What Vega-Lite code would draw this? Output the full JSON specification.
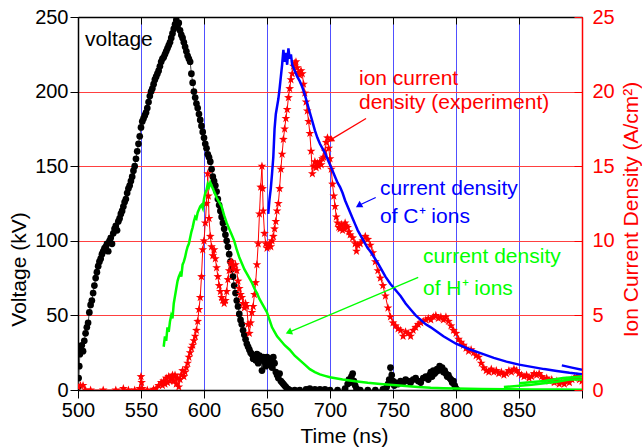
{
  "$schema": "https://vega.github.io/schema/vega-lite/v6.json",
  "autosize": {"type": "none"},
  "width": 504,
  "height": 373,
  "padding": {"left": 78, "top": 17, "right": 60, "bottom": 58},
  "background": "white",
  "config": {
    "font": "Liberation Sans",
    "view": {"stroke": null},
    "axis": {"labelFont": "Liberation Sans", "titleFont": "Liberation Sans", "titleFontWeight": "normal", "labelOverlap": false, "labelFlush": false}
  },
  "datasets": {
    "volt": [
      {"t":500,"v":2},{"t":500.5,"v":8},{"t":501,"v":16},{"t":501.5,"v":24},{"t":502,"v":28},{"t":503,"v":30},{"t":504,"v":26},{"t":505,"v":33},{"t":506,"v":38},{"t":507,"v":42},{"t":508,"v":45},{"t":509,"v":52},{"t":510,"v":57},{"t":511,"v":60},{"t":512,"v":65},{"t":513,"v":70},{"t":514,"v":75},{"t":515,"v":79},{"t":516,"v":83},{"t":517,"v":86},{"t":518,"v":88},{"t":519,"v":91},{"t":520,"v":93},{"t":521,"v":95},{"t":522,"v":96},{"t":523,"v":98},{"t":524,"v":93},{"t":525,"v":100},{"t":526,"v":102},{"t":527,"v":98},{"t":528,"v":105},{"t":529,"v":108},{"t":530,"v":110},{"t":531,"v":107},{"t":532,"v":113},{"t":533,"v":115},{"t":534,"v":118},{"t":535,"v":120},{"t":536,"v":123},{"t":537,"v":126},{"t":538,"v":128},{"t":539,"v":132},{"t":540,"v":135},{"t":541,"v":137},{"t":542,"v":140},{"t":543,"v":143},{"t":544,"v":147},{"t":545,"v":150},{"t":546,"v":155},{"t":547,"v":160},{"t":548,"v":165},{"t":549,"v":170},{"t":550,"v":176},{"t":551,"v":180},{"t":552,"v":182},{"t":553,"v":184},{"t":554,"v":186},{"t":555,"v":189},{"t":556,"v":193},{"t":557,"v":197},{"t":558,"v":200},{"t":559,"v":202},{"t":560,"v":205},{"t":561,"v":208},{"t":562,"v":210},{"t":563,"v":212},{"t":564,"v":214},{"t":565,"v":217},{"t":566,"v":220},{"t":567,"v":222},{"t":568,"v":223},{"t":569,"v":225},{"t":570,"v":227},{"t":571,"v":229},{"t":572,"v":231},{"t":573,"v":233},{"t":574,"v":236},{"t":575,"v":239},{"t":576,"v":242},{"t":577,"v":245},{"t":578,"v":248},{"t":579,"v":244},{"t":580,"v":246},{"t":581,"v":241},{"t":582,"v":238},{"t":583,"v":236},{"t":584,"v":233},{"t":585,"v":230},{"t":586,"v":227},{"t":587,"v":224},{"t":588,"v":222},{"t":589,"v":220},{"t":590,"v":212},{"t":591,"v":206},{"t":592,"v":200},{"t":593,"v":196},{"t":594,"v":192},{"t":595,"v":189},{"t":596,"v":185},{"t":597,"v":181},{"t":598,"v":177},{"t":599,"v":173},{"t":600,"v":169},{"t":601,"v":165},{"t":602,"v":162},{"t":603,"v":158},{"t":604,"v":156},{"t":605,"v":153},{"t":606,"v":148},{"t":607,"v":143},{"t":608,"v":140},{"t":609,"v":137},{"t":610,"v":133},{"t":611,"v":128},{"t":612,"v":124},{"t":613,"v":120},{"t":614,"v":116},{"t":615,"v":112},{"t":616,"v":108},{"t":617,"v":104},{"t":618,"v":100},{"t":619,"v":96},{"t":620,"v":91},{"t":621,"v":86},{"t":622,"v":81},{"t":623,"v":76},{"t":624,"v":70},{"t":625,"v":65},{"t":626,"v":60},{"t":627,"v":56},{"t":628,"v":51},{"t":629,"v":47},{"t":630,"v":44},{"t":631,"v":40},{"t":632,"v":37},{"t":633,"v":34},{"t":634,"v":31},{"t":635,"v":29},{"t":636,"v":27},{"t":637,"v":25},{"t":638,"v":24},{"t":639,"v":21},{"t":640,"v":23},{"t":641,"v":20},{"t":642,"v":24},{"t":643,"v":18},{"t":644,"v":23},{"t":645,"v":20},{"t":646,"v":13},{"t":647,"v":22},{"t":648,"v":19},{"t":649,"v":16},{"t":650,"v":22},{"t":651,"v":20},{"t":652,"v":17},{"t":653,"v":21},{"t":654,"v":15},{"t":655,"v":22},{"t":656,"v":18},{"t":657,"v":12},{"t":658,"v":10},{"t":659,"v":8},{"t":660,"v":11},{"t":661,"v":6},{"t":662,"v":5},{"t":663,"v":4},{"t":664,"v":3},{"t":665,"v":2},{"t":666,"v":1},{"t":667,"v":0.5},{"t":668,"v":0},
      {"t":672,"v":0},{"t":676,"v":0},{"t":681,"v":0.5},{"t":684,"v":1},{"t":688,"v":0.5},{"t":692,"v":0.5},{"t":696,"v":0.5},{"t":700,"v":0},{"t":706,"v":0},{"t":712,"v":1},{"t":714,"v":4},{"t":715,"v":7},{"t":716,"v":5},{"t":717,"v":9},{"t":718,"v":11},{"t":719,"v":6},{"t":720,"v":3},{"t":721,"v":1},{"t":724,"v":0},{"t":730,"v":0},{"t":736,"v":0},{"t":742,"v":0.5},{"t":745,"v":2},{"t":746,"v":4},{"t":747,"v":7},{"t":748,"v":15},{"t":749,"v":10},{"t":750,"v":6},{"t":751,"v":3},{"t":752,"v":5},{"t":754,"v":4},{"t":756,"v":6},{"t":758,"v":5},{"t":760,"v":7},{"t":762,"v":6},{"t":764,"v":5},{"t":766,"v":7},{"t":768,"v":8},{"t":770,"v":6},{"t":772,"v":5},{"t":774,"v":8},{"t":776,"v":9},{"t":778,"v":7},{"t":779,"v":10},{"t":780,"v":12},{"t":781,"v":9},{"t":782,"v":13},{"t":783,"v":11},{"t":784,"v":12},{"t":785,"v":14},{"t":786,"v":13},{"t":787,"v":16},{"t":788,"v":14},{"t":789,"v":15},{"t":790,"v":12},{"t":791,"v":13},{"t":792,"v":11},{"t":793,"v":9},{"t":794,"v":10},{"t":795,"v":8},{"t":796,"v":7},{"t":797,"v":5},{"t":798,"v":6},{"t":799,"v":3},{"t":800,"v":1},{"t":801,"v":0}
    ],
    "exp": [
      {"t":500,"j":0.2},{"t":502,"j":0.3},{"t":504,"j":0.3},{"t":506,"j":0},{"t":510,"j":0},{"t":520,"j":0},{"t":530,"j":0},{"t":536,"j":0.1},{"t":540,"j":0},{"t":545,"j":0},{"t":549,"j":0.1},{"t":550,"j":0.9},{"t":550.5,"j":0.5},{"t":551,"j":0.1},{"t":555,"j":0},{"t":560,"j":0.05},{"t":562,"j":0.1},{"t":564,"j":0.3},{"t":566,"j":0.5},{"t":567,"j":0.3},{"t":568,"j":0.6},{"t":569,"j":0.4},{"t":570,"j":0.8},{"t":571,"j":0.5},{"t":572,"j":0.9},{"t":573,"j":0.6},{"t":574,"j":0.8},{"t":575,"j":1.0},{"t":576,"j":0.6},{"t":577,"j":1.0},{"t":578,"j":0.4},{"t":579,"j":0.8},{"t":580,"j":0.2},{"t":581,"j":0.7},{"t":582,"j":1.0},{"t":583,"j":1.3},{"t":584,"j":0.9},{"t":585,"j":1.2},{"t":586,"j":1.5},{"t":587,"j":1.8},{"t":588,"j":2.2},{"t":589,"j":2.5},{"t":590,"j":2.8},{"t":591,"j":3.0},{"t":592,"j":3.3},{"t":593,"j":3.6},{"t":594,"j":4.0},{"t":595,"j":4.6},{"t":596,"j":5.4},{"t":597,"j":6.2},{"t":598,"j":7.6},{"t":599,"j":9.4},{"t":600,"j":10.0},{"t":601,"j":11.2},{"t":602,"j":12.5},{"t":603,"j":14.5},{"t":603.5,"j":13.0},{"t":604,"j":11.5},{"t":605,"j":10.3},{"t":606,"j":9.6},{"t":607,"j":9.0},{"t":608,"j":9.4},{"t":609,"j":8.8},{"t":610,"j":8.2},{"t":611,"j":7.6},{"t":612,"j":7.0},{"t":613,"j":6.6},{"t":614,"j":6.2},{"t":615,"j":6.0},{"t":616,"j":5.8},{"t":617,"j":6.0},{"t":618,"j":6.6},{"t":619,"j":7.4},{"t":620,"j":8.0},{"t":621,"j":8.5},{"t":622,"j":8.6},{"t":623,"j":8.3},{"t":624,"j":8.1},{"t":625,"j":8.4},{"t":626,"j":8.0},{"t":627,"j":7.3},{"t":628,"j":6.8},{"t":629,"j":6.4},{"t":630,"j":6.2},{"t":631,"j":5.8},{"t":632,"j":5.5},{"t":633,"j":5.8},{"t":634,"j":5.6},{"t":635,"j":4.4},{"t":636,"j":3.8},{"t":637,"j":4.5},{"t":638,"j":5.2},{"t":639,"j":5.6},{"t":640,"j":6.4},{"t":641,"j":7.2},{"t":642,"j":8.4},{"t":643,"j":9.8},{"t":644,"j":11.8},{"t":645,"j":13.6},{"t":646,"j":15.0},{"t":646.5,"j":13.5},{"t":647,"j":12.0},{"t":648,"j":10.5},{"t":649,"j":9.8},{"t":650,"j":9.5},{"t":651,"j":9.6},{"t":652,"j":9.8},{"t":653,"j":9.6},{"t":654,"j":10.0},{"t":655,"j":10.3},{"t":656,"j":10.8},{"t":657,"j":11.3},{"t":658,"j":12.0},{"t":659,"j":12.5},{"t":660,"j":13.5},{"t":661,"j":14.8},{"t":662,"j":15.8},{"t":663,"j":16.8},{"t":664,"j":17.5},{"t":665,"j":18.2},{"t":666,"j":18.8},{"t":667,"j":19.6},{"t":668,"j":20.2},{"t":669,"j":20.8},{"t":670,"j":21.2},{"t":671,"j":21.7},{"t":672,"j":21.9},{"t":673,"j":22.0},{"t":674,"j":21.6},{"t":675,"j":21.3},{"t":676,"j":21.1},{"t":677,"j":21.4},{"t":678,"j":21.2},{"t":679,"j":20.5},{"t":680,"j":19.9},{"t":681,"j":19.3},{"t":682,"j":18.7},{"t":683,"j":18.0},{"t":684,"j":17.2},{"t":685,"j":16.0},{"t":686,"j":14.5},{"t":687,"j":15.0},{"t":688,"j":15.3},{"t":689,"j":14.9},{"t":690,"j":15.2},{"t":691,"j":15.0},{"t":692,"j":15.3},{"t":693,"j":15.1},{"t":694,"j":15.5},{"t":695,"j":15.6},{"t":696,"j":16.0},{"t":697,"j":16.6},{"t":698,"j":16.9},{"t":699,"j":16.2},{"t":700,"j":15.5},{"t":701,"j":14.8},{"t":702,"j":13.8},{"t":703,"j":13.0},{"t":704,"j":12.3},{"t":705,"j":11.6},{"t":706,"j":11.2},{"t":707,"j":10.9},{"t":708,"j":10.8},{"t":709,"j":11.1},{"t":710,"j":10.7},{"t":711,"j":10.8},{"t":712,"j":11.2},{"t":713,"j":11.0},{"t":714,"j":10.9},{"t":715,"j":10.6},{"t":716,"j":10.4},{"t":718,"j":10.2},{"t":720,"j":9.8},{"t":721,"j":9.3},{"t":722,"j":9.7},{"t":724,"j":9.8},{"t":726,"j":10.0},{"t":728,"j":10.3},{"t":730,"j":10.1},{"t":732,"j":9.7},{"t":734,"j":9.2},{"t":736,"j":8.6},{"t":738,"j":8.0},{"t":740,"j":7.5},{"t":742,"j":7.0},{"t":744,"j":6.3},{"t":746,"j":5.5},{"t":748,"j":4.9},{"t":750,"j":4.5},{"t":752,"j":4.3},{"t":754,"j":4.1},{"t":756,"j":4.0},{"t":758,"j":3.6},{"t":760,"j":3.9},{"t":762,"j":3.8},{"t":764,"j":3.6},{"t":766,"j":4.0},{"t":768,"j":4.2},{"t":770,"j":4.4},{"t":772,"j":4.5},{"t":774,"j":4.6},{"t":776,"j":4.7},{"t":778,"j":4.8},{"t":780,"j":4.7},{"t":782,"j":4.9},{"t":784,"j":5.0},{"t":786,"j":4.8},{"t":788,"j":4.9},{"t":790,"j":4.7},{"t":792,"j":4.9},{"t":794,"j":4.6},{"t":796,"j":4.3},{"t":798,"j":4.0},{"t":800,"j":3.8},{"t":802,"j":3.4},{"t":804,"j":3.2},{"t":806,"j":3.0},{"t":808,"j":2.8},{"t":810,"j":2.6},{"t":812,"j":2.7},{"t":814,"j":2.5},{"t":816,"j":2.3},{"t":818,"j":2.2},{"t":820,"j":1.8},{"t":822,"j":1.5},{"t":824,"j":1.3},{"t":826,"j":1.2},{"t":828,"j":1.4},{"t":830,"j":1.2},{"t":832,"j":1.3},{"t":834,"j":1.1},{"t":836,"j":1.2},{"t":838,"j":1.0},{"t":840,"j":1.1},{"t":842,"j":1.3},{"t":844,"j":1.2},{"t":846,"j":1.4},{"t":848,"j":1.3},{"t":850,"j":1.1},{"t":852,"j":1.0},{"t":854,"j":0.9},{"t":856,"j":1.0},{"t":858,"j":0.8},{"t":860,"j":0.9},{"t":862,"j":1.1},{"t":864,"j":1.0},{"t":866,"j":1.1},{"t":868,"j":0.9},{"t":870,"j":0.7},{"t":872,"j":0.8},{"t":874,"j":0.6},{"t":876,"j":0.7},{"t":878,"j":0.5},{"t":880,"j":0.6},{"t":882,"j":0.4},{"t":884,"j":0.5},{"t":886,"j":0.4},{"t":888,"j":0.6},{"t":890,"j":0.5},{"t":892,"j":0.7},{"t":894,"j":0.8},{"t":896,"j":0.9},{"t":898,"j":0.7},{"t":900,"j":0.6}
    ],
    "cplus": [
      {"t":651,"j":11.8,"seg":"a"},{"t":652,"j":12.8,"seg":"a"},{"t":653,"j":13.5,"seg":"a"},{"t":654,"j":14.5,"seg":"a"},{"t":655,"j":15.6,"seg":"a"},{"t":656,"j":17.5,"seg":"a"},{"t":657,"j":18.5,"seg":"a"},{"t":658,"j":19.0,"seg":"a"},{"t":659,"j":19.5,"seg":"a"},{"t":660,"j":20.2,"seg":"a"},{"t":661,"j":21.0,"seg":"a"},{"t":662,"j":21.8,"seg":"a"},{"t":663,"j":22.8,"seg":"a"},{"t":664,"j":22.0,"seg":"a"},{"t":665,"j":22.6,"seg":"a"},{"t":666,"j":21.8,"seg":"a"},{"t":667,"j":22.9,"seg":"a"},{"t":668,"j":22.2,"seg":"a"},{"t":669,"j":22.5,"seg":"a"},{"t":670,"j":21.8,"seg":"a"},{"t":672,"j":21.4,"seg":"a"},{"t":674,"j":21.0,"seg":"a"},{"t":676,"j":20.7,"seg":"a"},{"t":678,"j":20.3,"seg":"a"},{"t":680,"j":19.8,"seg":"a"},{"t":682,"j":19.2,"seg":"a"},{"t":684,"j":18.6,"seg":"a"},{"t":686,"j":18.0,"seg":"a"},{"t":688,"j":17.4,"seg":"a"},{"t":690,"j":16.9,"seg":"a"},{"t":692,"j":16.5,"seg":"a"},{"t":694,"j":16.2,"seg":"a"},{"t":696,"j":15.9,"seg":"a"},{"t":698,"j":15.5,"seg":"a"},{"t":700,"j":15.1,"seg":"a"},{"t":702,"j":14.7,"seg":"a"},{"t":704,"j":14.3,"seg":"a"},{"t":706,"j":13.9,"seg":"a"},{"t":708,"j":13.6,"seg":"a"},{"t":710,"j":13.2,"seg":"a"},{"t":712,"j":12.7,"seg":"a"},{"t":714,"j":12.3,"seg":"a"},{"t":716,"j":11.9,"seg":"a"},{"t":718,"j":11.5,"seg":"a"},{"t":720,"j":11.1,"seg":"a"},{"t":722,"j":10.7,"seg":"a"},{"t":724,"j":10.4,"seg":"a"},{"t":726,"j":10.1,"seg":"a"},{"t":728,"j":9.8,"seg":"a"},{"t":730,"j":9.5,"seg":"a"},{"t":732,"j":9.3,"seg":"a"},{"t":735,"j":8.9,"seg":"a"},{"t":738,"j":8.5,"seg":"a"},{"t":740,"j":8.2,"seg":"a"},{"t":744,"j":7.6,"seg":"a"},{"t":748,"j":7.1,"seg":"a"},{"t":752,"j":6.7,"seg":"a"},{"t":756,"j":6.3,"seg":"a"},{"t":760,"j":5.8,"seg":"a"},{"t":764,"j":5.4,"seg":"a"},{"t":768,"j":5.0,"seg":"a"},{"t":772,"j":4.7,"seg":"a"},{"t":776,"j":4.4,"seg":"a"},{"t":780,"j":4.2,"seg":"a"},{"t":785,"j":3.9,"seg":"a"},{"t":790,"j":3.6,"seg":"a"},{"t":795,"j":3.35,"seg":"a"},{"t":800,"j":3.1,"seg":"a"},{"t":810,"j":2.75,"seg":"a"},{"t":820,"j":2.45,"seg":"a"},{"t":830,"j":2.15,"seg":"a"},{"t":840,"j":1.9,"seg":"a"},{"t":850,"j":1.7,"seg":"a"},{"t":860,"j":1.55,"seg":"a"},{"t":870,"j":1.4,"seg":"a"},{"t":880,"j":1.28,"seg":"a"},{"t":890,"j":1.15,"seg":"a"},{"t":900,"j":1.05,"seg":"a"},
      {"t":884,"j":1.65,"seg":"b"},{"t":892,"j":1.5,"seg":"b"},{"t":900,"j":1.35,"seg":"b"}
    ],
    "hplus": [
      {"t":568,"j":2.9,"seg":"a"},{"t":569,"j":3.6,"seg":"a"},{"t":570,"j":3.3,"seg":"a"},{"t":571,"j":4.2,"seg":"a"},{"t":572,"j":3.9,"seg":"a"},{"t":573,"j":4.6,"seg":"a"},{"t":574,"j":5.0,"seg":"a"},{"t":575,"j":4.8,"seg":"a"},{"t":576,"j":5.8,"seg":"a"},{"t":577,"j":6.3,"seg":"a"},{"t":578,"j":6.8,"seg":"a"},{"t":579,"j":7.3,"seg":"a"},{"t":580,"j":7.6,"seg":"a"},{"t":581,"j":7.8,"seg":"a"},{"t":582,"j":7.6,"seg":"a"},{"t":583,"j":8.4,"seg":"a"},{"t":584,"j":8.6,"seg":"a"},{"t":585,"j":8.9,"seg":"a"},{"t":586,"j":9.3,"seg":"a"},{"t":587,"j":9.6,"seg":"a"},{"t":588,"j":9.8,"seg":"a"},{"t":589,"j":10.2,"seg":"a"},{"t":590,"j":10.6,"seg":"a"},{"t":591,"j":10.9,"seg":"a"},{"t":592,"j":11.3,"seg":"a"},{"t":593,"j":11.6,"seg":"a"},{"t":594,"j":11.5,"seg":"a"},{"t":595,"j":11.9,"seg":"a"},{"t":596,"j":12.1,"seg":"a"},{"t":597,"j":12.3,"seg":"a"},{"t":598,"j":12.4,"seg":"a"},{"t":599,"j":12.2,"seg":"a"},{"t":600,"j":12.8,"seg":"a"},{"t":601,"j":13.2,"seg":"a"},{"t":602,"j":13.4,"seg":"a"},{"t":603,"j":13.8,"seg":"a"},{"t":604,"j":13.6,"seg":"a"},{"t":605,"j":13.9,"seg":"a"},{"t":606,"j":13.7,"seg":"a"},{"t":607,"j":13.5,"seg":"a"},{"t":608,"j":13.3,"seg":"a"},{"t":609,"j":13.1,"seg":"a"},{"t":610,"j":12.9,"seg":"a"},{"t":612,"j":12.6,"seg":"a"},{"t":614,"j":12.3,"seg":"a"},{"t":616,"j":11.7,"seg":"a"},{"t":618,"j":11.2,"seg":"a"},{"t":620,"j":10.8,"seg":"a"},{"t":622,"j":10.4,"seg":"a"},{"t":624,"j":10.0,"seg":"a"},{"t":626,"j":9.4,"seg":"a"},{"t":628,"j":8.9,"seg":"a"},{"t":630,"j":8.5,"seg":"a"},{"t":632,"j":8.1,"seg":"a"},{"t":634,"j":7.8,"seg":"a"},{"t":636,"j":7.5,"seg":"a"},{"t":638,"j":7.2,"seg":"a"},{"t":640,"j":6.8,"seg":"a"},{"t":642,"j":6.5,"seg":"a"},{"t":644,"j":6.1,"seg":"a"},{"t":646,"j":5.8,"seg":"a"},{"t":648,"j":5.5,"seg":"a"},{"t":650,"j":5.2,"seg":"a"},{"t":652,"j":4.7,"seg":"a"},{"t":654,"j":4.2,"seg":"a"},{"t":656,"j":3.9,"seg":"a"},{"t":658,"j":3.6,"seg":"a"},{"t":660,"j":3.4,"seg":"a"},{"t":664,"j":3.0,"seg":"a"},{"t":668,"j":2.7,"seg":"a"},{"t":672,"j":2.3,"seg":"a"},{"t":676,"j":2.0,"seg":"a"},{"t":680,"j":1.7,"seg":"a"},{"t":684,"j":1.4,"seg":"a"},{"t":688,"j":1.2,"seg":"a"},{"t":692,"j":1.05,"seg":"a"},{"t":696,"j":0.95,"seg":"a"},{"t":700,"j":0.85,"seg":"a"},{"t":710,"j":0.7,"seg":"a"},{"t":720,"j":0.58,"seg":"a"},{"t":730,"j":0.48,"seg":"a"},{"t":740,"j":0.4,"seg":"a"},{"t":750,"j":0.33,"seg":"a"},{"t":760,"j":0.27,"seg":"a"},{"t":770,"j":0.2,"seg":"a"},{"t":780,"j":0.15,"seg":"a"},{"t":790,"j":0.12,"seg":"a"},{"t":800,"j":0.1,"seg":"a"},{"t":820,"j":0.07,"seg":"a"},{"t":840,"j":0.05,"seg":"a"},{"t":860,"j":0.04,"seg":"a"},{"t":880,"j":0.03,"seg":"a"},{"t":900,"j":0.02,"seg":"a"},
      {"t":838,"j":0.2,"seg":"b"},{"t":860,"j":0.35,"seg":"b"},{"t":880,"j":0.55,"seg":"b"},{"t":890,"j":0.7,"seg":"b"},{"t":900,"j":0.7,"seg":"b"},
      {"t":850,"j":0.45,"seg":"c"},{"t":870,"j":0.6,"seg":"c"},{"t":885,"j":0.8,"seg":"c"},{"t":900,"j":0.9,"seg":"c"}
    ],
    "arrows": [
      {"who":"exp","t":728.6,"j":18.2,"t2":701,"j2":16.8},
      {"who":"C","t":736.3,"j":12.9,"t2":723.5,"j2":12.4},
      {"who":"H","t":770,"j":7.55,"t2":668,"j2":3.9}
    ],
    "notes": [
      {"who":"exp","t":723,"j":20.44,"text":"ion current"},
      {"who":"exp","t":723,"j":18.83,"text":"density (experiment)"},
      {"who":"C","t":739.7,"j":13.07,"text":"current density"},
      {"who":"C","t":739.7,"j":11.19,"text":"of C⁺ ions"},
      {"who":"H","t":773.8,"j":8.5,"text":"current density"},
      {"who":"H","t":773.8,"j":6.37,"text":"of H⁺ ions"}
    ],
    "vnote": [
      {"t":505.6,"v":230.6,"text":"voltage"}
    ]
  },
  "layer": [
    {
      "layer": [
        {
          "data": {"name": "volt"},
          "mark": {"type": "line", "color": "#444444", "strokeWidth": 1, "clip": true},
          "encoding": {
            "x": {"field": "t", "type": "quantitative", "scale": {"domain": [500, 900], "nice": false, "zero": false},
              "axis": {
                "orient": "bottom",
                "values": [500,525,550,575,600,625,650,675,700,725,750,775,800,825,850,875,900],
                "labelExpr": "datum.value % 50 === 0 && datum.value < 900 ? datum.label : ''",
                "labelFontSize": 20, "labelColor": "black", "labelPadding": 2,
                "tickSize": {"condition": {"test": "datum.value % 50 !== 0", "value": 5}, "value": 8},
                "tickColor": "black", "tickWidth": 1,
                "domainColor": "black", "domainWidth": 1.5,
                "grid": true, "gridColor": "#5050ff", "gridWidth": 1,
                "gridOpacity": {"condition": {"test": "datum.value % 50 !== 0 || datum.value === 500 || datum.value === 900", "value": 0}, "value": 1},
                "title": "Time (ns)", "titleFontSize": 21, "titleColor": "black",
                "titleX": 266, "titleY": 52, "titleBaseline": "alphabetic", "titleAlign": "center"
              }
            },
            "y": {"field": "v", "type": "quantitative", "scale": {"domain": [0, 250], "nice": false},
              "axis": {
                "orient": "left",
                "values": [0,25,50,75,100,125,150,175,200,225,250],
                "labelExpr": "datum.value % 50 === 0 ? datum.label : ''",
                "labelFontSize": 20, "labelColor": "black", "labelPadding": 2,
                "tickSize": {"condition": {"test": "datum.value % 50 !== 0", "value": 4}, "value": 8},
                "tickColor": "black", "domainColor": "black", "domainWidth": 1.5,
                "grid": false,
                "title": "Voltage (kV)", "titleFontSize": 21, "titleColor": "black",
                "titleAngle": 270, "titleX": -53, "titleY": 252, "titleAlign": "center", "titleBaseline": "alphabetic"
              }
            }
          }
        },
        {
          "data": {"name": "volt"},
          "mark": {"type": "point", "shape": "circle", "filled": true, "color": "black", "size": 45, "opacity": 1, "clip": true},
          "encoding": {
            "x": {"field": "t", "type": "quantitative"},
            "y": {"field": "v", "type": "quantitative"}
          }
        },
        {
          "data": {"name": "vnote"},
          "mark": {"type": "text", "align": "left", "baseline": "alphabetic", "fontSize": 21, "font": "Liberation Sans", "color": "black"},
          "encoding": {
            "x": {"field": "t", "type": "quantitative"},
            "y": {"field": "v", "type": "quantitative"},
            "text": {"field": "text"}
          }
        }
      ]
    },
    {
      "layer": [
        {
          "data": {"name": "exp"},
          "mark": {"type": "line", "color": "#ff0000", "strokeWidth": 1, "clip": true},
          "encoding": {
            "x": {"field": "t", "type": "quantitative",
              "axis": {
                "orient": "top",
                "values": [500,525,550,575,600,625,650,675,700,725,750,775,800,825,850,875,900],
                "labels": false,
                "tickSize": {"condition": {"test": "datum.value % 50 !== 0", "value": -4}, "value": -7},
                "tickColor": "black", "domainColor": "black", "domainWidth": 1.5,
                "grid": false, "title": null
              }
            },
            "y": {"field": "j", "type": "quantitative", "scale": {"domain": [0, 25], "nice": false},
              "axis": {
                "orient": "right",
                "values": [0,2.5,5,7.5,10,12.5,15,17.5,20,22.5,25],
                "labelExpr": "datum.value % 5 === 0 ? datum.label : ''",
                "labelFontSize": 20, "labelColor": "#ff0000", "labelPadding": 18,
                "tickSize": {"condition": {"test": "datum.value % 5 !== 0", "value": -4}, "value": -8},
                "tickColor": "#ff0000", "domainColor": "#ff0000", "domainWidth": 1.5,
                "grid": true, "gridColor": "#ff4040", "gridWidth": 1,
                "gridOpacity": {"condition": {"test": "datum.value % 5 !== 0 || datum.value === 0 || datum.value === 25", "value": 0}, "value": 1},
                "title": "Ion Current Density (A/cm²)", "titleFontSize": 21, "titleColor": "#ff0000",
                "titleAngle": 270, "titleX": 55, "titleY": 192, "titleAlign": "center", "titleBaseline": "alphabetic"
              }
            }
          }
        },
        {
          "data": {"name": "exp"},
          "mark": {"type": "point", "shape": "M0,-1L0.235,-0.324L0.951,-0.309L0.38,0.124L0.588,0.809L0,0.4L-0.588,0.809L-0.38,0.124L-0.951,-0.309L-0.235,-0.324Z", "filled": true, "color": "#ff0000", "size": 85, "opacity": 1, "clip": true},
          "encoding": {
            "x": {"field": "t", "type": "quantitative"},
            "y": {"field": "j", "type": "quantitative"}
          }
        },
        {
          "data": {"name": "cplus"},
          "mark": {"type": "line", "color": "#0000ff", "strokeWidth": 2.5, "clip": true},
          "encoding": {
            "x": {"field": "t", "type": "quantitative"},
            "y": {"field": "j", "type": "quantitative"},
            "detail": {"field": "seg"}
          }
        },
        {
          "data": {"name": "hplus"},
          "mark": {"type": "line", "color": "#00ff00", "strokeWidth": 2.5, "clip": true},
          "encoding": {
            "x": {"field": "t", "type": "quantitative"},
            "y": {"field": "j", "type": "quantitative"},
            "detail": {"field": "seg"}
          }
        },
        {
          "data": {"name": "arrows"},
          "mark": {"type": "rule", "strokeWidth": 1.3},
          "encoding": {
            "x": {"field": "t", "type": "quantitative"},
            "y": {"field": "j", "type": "quantitative"},
            "x2": {"field": "t2"},
            "y2": {"field": "j2"},
            "color": {"field": "who", "type": "nominal", "scale": {"domain": ["exp", "C", "H"], "range": ["#ff0000", "#0000ff", "#00ff00"]}, "legend": null}
          }
        },
        {
          "data": {"name": "arrows"},
          "transform": [{"filter": "datum.who === 'exp'"}],
          "mark": {"type": "point", "shape": "triangle", "filled": true, "size": 55, "opacity": 1, "angle": 235, "color": "#ff0000"},
          "encoding": {
            "x": {"field": "t2", "type": "quantitative"},
            "y": {"field": "j2", "type": "quantitative"}
          }
        },
        {
          "data": {"name": "arrows"},
          "transform": [{"filter": "datum.who === 'C'"}],
          "mark": {"type": "point", "shape": "triangle", "filled": true, "size": 55, "opacity": 1, "angle": 240, "color": "#0000ff"},
          "encoding": {
            "x": {"field": "t2", "type": "quantitative"},
            "y": {"field": "j2", "type": "quantitative"}
          }
        },
        {
          "data": {"name": "arrows"},
          "transform": [{"filter": "datum.who === 'H'"}],
          "mark": {"type": "point", "shape": "triangle", "filled": true, "size": 55, "opacity": 1, "angle": 247, "color": "#00ff00"},
          "encoding": {
            "x": {"field": "t2", "type": "quantitative"},
            "y": {"field": "j2", "type": "quantitative"}
          }
        },
        {
          "data": {"name": "notes"},
          "mark": {"type": "text", "align": "left", "baseline": "alphabetic", "fontSize": 21, "font": "Liberation Sans"},
          "encoding": {
            "x": {"field": "t", "type": "quantitative"},
            "y": {"field": "j", "type": "quantitative"},
            "text": {"field": "text"},
            "color": {"field": "who", "type": "nominal", "scale": {"domain": ["exp", "C", "H"], "range": ["#ff0000", "#0000ff", "#00ff00"]}, "legend": null}
          }
        }
      ]
    }
  ],
  "resolve": {"scale": {"y": "independent"}, "axis": {"x": "independent"}}
}
